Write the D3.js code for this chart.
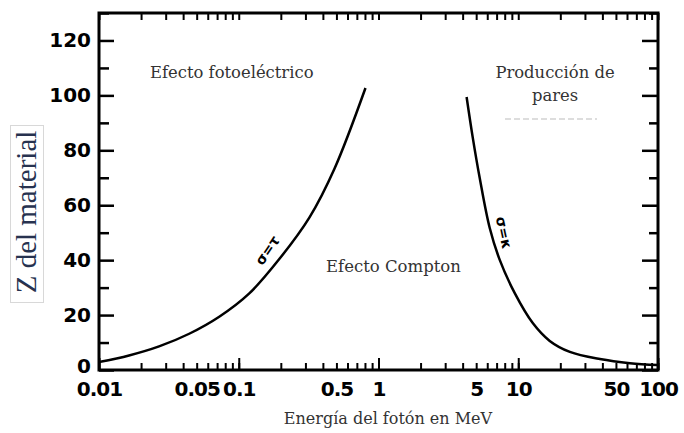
<!DOCTYPE html>
<html>
<head>
<meta charset="utf-8">
<script src="https://cdn.jsdelivr.net/npm/d3@7"></script>
<style>
  body { margin: 0; background: #fff; }
  svg { display: block; }
</style>
</head>
<body>
<svg id="chart" width="684" height="433"></svg>
<script>
// tick labels
var xTicks = [0.01, 0.05, 0.1, 0.5, 1, 5, 10, 50, 100];
var xTickLabels = ["0.01", "0.05", "0.1", "0.5", "1", "5", "10", "50", "100"];
var yTicks = [0, 20, 40, 60, 80, 100, 120];
var yMinor = [10, 30, 50, 70, 90, 110, 130];

// sigma = tau boundary (photoelectric / compton)
var photoE = [0.01, 0.0164, 0.0269, 0.0442, 0.0725, 0.119, 0.195, 0.32, 0.484, 0.807];
var photoZ = [2.9, 5.3, 8.6, 13.2, 19.4, 27.9, 40.4, 55.5, 73.3, 102.7];

// sigma = kappa boundary (compton / pair production)
var pairE = [4.27, 4.72, 5.3, 6.25, 7.37, 9.44, 12.7, 16.8, 23.4, 38.4, 63, 100];
var pairZ = [99.4, 84.8, 69.9, 51.7, 40.1, 28, 17.1, 10.6, 6.6, 4, 2.5, 1.8];

var svg = d3.select('#chart');
// note: "top" is taken by window.top, so use pl/pr/pt/pb
var pl = 99, pr = 658, pt = 13, pb = 370;

var x = d3.scaleLog().domain([0.01, 100]).range([pl, pr]);
var y = d3.scaleLinear().domain([0, 130]).range([pb, pt]);

var minorX = x.ticks();
var decades = [0.01, 0.1, 1, 10, 100];

var tickGroup = function(axis, tx, ty, sw){
  svg.append('g')
    .attr('transform', 'translate(' + tx + ',' + ty + ')')
    .call(axis.tickSizeOuter(0).tickFormat(''))
    .call(function(g){
      g.select('.domain').remove();
      g.selectAll('line').attr('stroke', '#000').attr('stroke-width', sw);
    });
}

//bottom + top ticks
tickGroup(d3.axisBottom(x).tickValues(minorX).tickSize(-7), 0, pb, 2);
tickGroup(d3.axisBottom(x).tickValues(decades).tickSize(-12), 0, pb, 2);
tickGroup(d3.axisTop(x).tickValues(minorX).tickSize(-7), 0, pt, 2);

//left + right ticks
tickGroup(d3.axisLeft(y).tickValues(yTicks).tickSize(-15), pl, 0, 2.5);
tickGroup(d3.axisLeft(y).tickValues(yMinor).tickSize(-10), pl, 0, 2.5);
tickGroup(d3.axisRight(y).tickValues(yTicks).tickSize(-16), pr, 0, 2.5);
tickGroup(d3.axisRight(y).tickValues(yMinor).tickSize(-9), pr, 0, 2.5);

// x labels
var xLab = svg.append('g')
  .attr('transform', 'translate(0,' + pb + ')')
  .call(d3.axisBottom(x).tickValues(xTicks).tickSize(0).tickPadding(12)
    .tickFormat(function(d, i){ return xTickLabels[i]; }));
xLab.select('.domain').remove();
xLab.selectAll('text')
  .attr('font-family', 'DejaVu Sans')
  .attr('font-weight', 'bold')
  .attr('font-size', '20px')
  .attr('letter-spacing', '-1px')
  .attr('fill', '#000');

// y labels
var yLab = svg.append('g')
  .attr('transform', 'translate(' + pl + ',0)')
  .call(d3.axisLeft(y).tickValues(yTicks).tickSize(0).tickPadding(8));
yLab.select('.domain').remove();
yLab.selectAll('text')
  .attr('font-family', 'DejaVu Sans')
  .attr('font-weight', 'bold')
  .attr('font-size', '20px')
  .attr('fill', '#000');
// the 0 sits a little higher, clear of 0.01
yLab.selectAll('.tick').filter(function(d){ return d === 0; })
  .select('text').attr('dy', '0.1em');

// frame
svg.append('rect')
  .attr('x', pl).attr('y', pt)
  .attr('width', pr - pl).attr('height', pb - pt)
  .attr('fill', 'none')
  .attr('stroke', '#000')
  .attr('stroke-width', 3);

// curves
var line = d3.line()
  .x(function(d){ return x(d[0]); })
  .y(function(d){ return y(d[1]); })
  .curve(d3.curveCatmullRom.alpha(0.5));

svg.append('path')
  .datum(d3.zip(photoE, photoZ))
  .attr('d', line)
  .attr('fill', 'none')
  .attr('stroke', '#000')
  .attr('stroke-width', 2.5);

svg.append('path')
  .datum(d3.zip(pairE, pairZ))
  .attr('d', line)
  .attr('fill', 'none')
  .attr('stroke', '#000')
  .attr('stroke-width', 2.5);

// curve labels
svg.append('text')
  .attr('transform', 'translate(' + x(0.16) + ',' + y(43.5) + ') rotate(-56)')
  .attr('text-anchor', 'middle')
  .attr('dy', '0.35em')
  .attr('font-family', 'DejaVu Sans')
  .attr('font-weight', 'bold')
  .attr('font-size', '14px')
  .text('σ=τ');
svg.append('text')
  .attr('transform', 'translate(' + x(7.9) + ',' + y(50) + ') rotate(78)')
  .attr('text-anchor', 'middle')
  .attr('dy', '0.35em')
  .attr('font-family', 'DejaVu Sans')
  .attr('font-weight', 'bold')
  .attr('font-size', '14px')
  .text('σ=κ');

// region labels
var serif = 'DejaVu Serif';
svg.append('text')
  .attr('x', 150).attr('y', 78)
  .attr('font-family', serif).attr('font-size', '16.4px').attr('fill', '#333')
  .text('Efecto fotoeléctrico');
svg.append('text')
  .attr('x', 555).attr('y', 78)
  .attr('text-anchor', 'middle')
  .attr('font-family', serif).attr('font-size', '16.4px').attr('fill', '#333')
  .text('Producción de');
svg.append('text')
  .attr('x', 555).attr('y', 101)
  .attr('text-anchor', 'middle')
  .attr('font-family', serif).attr('font-size', '16.4px').attr('fill', '#333')
  .text('pares');
svg.append('line')
  .attr('x1', 505).attr('x2', 597).attr('y1', 119).attr('y2', 119)
  .attr('stroke', '#bbb').attr('stroke-width', 1.2)
  .attr('stroke-dasharray', '6,3');
svg.append('text')
  .attr('x', 326).attr('y', 272)
  .attr('font-family', serif).attr('font-size', '16.5px').attr('fill', '#333')
  .text('Efecto Compton');

// axis titles
svg.append('text')
  .attr('x', (283 + 493) / 2).attr('y', 424)
  .attr('text-anchor', 'middle')
  .attr('font-family', serif).attr('font-size', '16px').attr('fill', '#333')
  .text('Energía del fotón en MeV');

svg.append('rect')
  .attr('x', 10.5).attr('y', 125.5).attr('width', 33).attr('height', 177)
  .attr('fill', 'none').attr('stroke', '#d8d8d8').attr('stroke-width', 1);
svg.append('text')
  .attr('transform', 'translate(36,212) rotate(-90)')
  .attr('text-anchor', 'middle')
  .attr('font-family', 'Liberation Serif').attr('font-size', '29px').attr('fill', '#27324f')
  .text('Z del material');
</script>
</body>
</html>
